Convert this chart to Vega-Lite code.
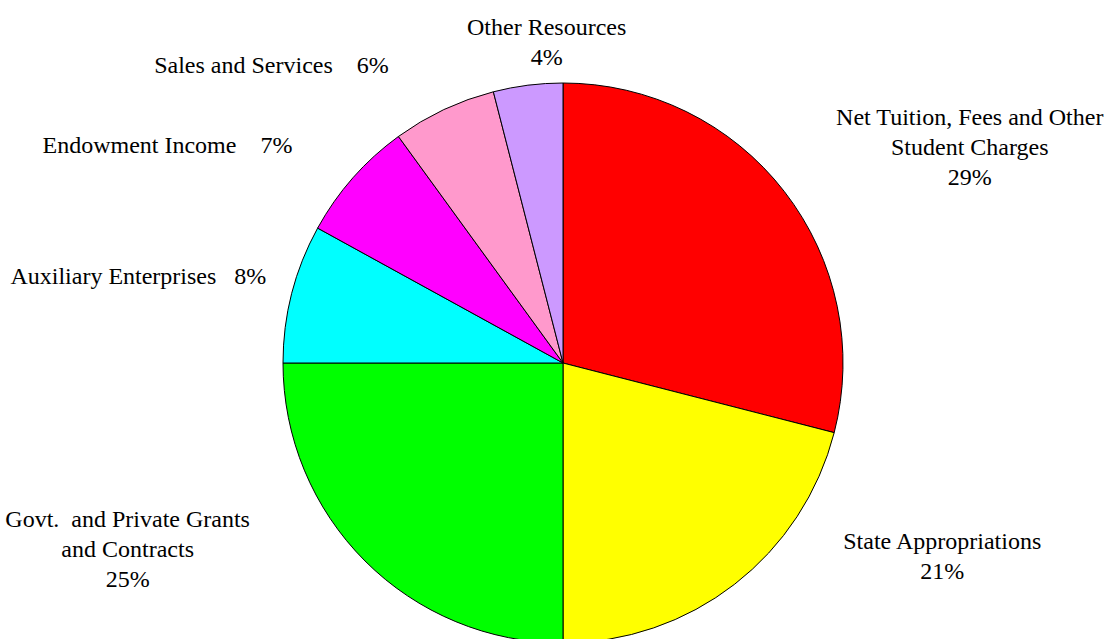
{
  "$schema": "https://vega.github.io/schema/vega-lite/v6.json",
  "autosize": "none",
  "padding": {"left": 20, "top": 100, "right": 1, "bottom": 20},
  "width": 1086,
  "height": 526,
  "background": "white",
  "config": {"view": {"stroke": null}},
  "data": {
    "values": [
      {"idx": 1, "cat": "Net Tuition", "label": "Net Tuition, Fees and Other\nStudent Charges\n29%", "value": 29},
      {"idx": 2, "cat": "State", "label": "State Appropriations\n21%", "value": 21},
      {"idx": 3, "cat": "Govt", "label": "Govt.\u00a0 and Private Grants\nand Contracts\n25%", "value": 25},
      {"idx": 4, "cat": "Auxiliary", "label": "Auxiliary Enterprises\u00a0\u00a0 8%", "value": 8},
      {"idx": 5, "cat": "Endowment", "label": "Endowment Income\u00a0\u00a0\u00a0 7%", "value": 7},
      {"idx": 6, "cat": "Sales", "label": "Sales and Services\u00a0\u00a0\u00a0 6%", "value": 6},
      {"idx": 7, "cat": "Other", "label": "Other Resources\n4%", "value": 4}
    ]
  },
  "encoding": {
    "theta": {"field": "value", "type": "quantitative", "stack": true},
    "order": {"field": "idx", "type": "quantitative"}
  },
  "layer": [
    {
      "mark": {"type": "arc", "radius": 280, "stroke": "black", "strokeWidth": 1},
      "encoding": {
        "color": {
          "field": "cat",
          "type": "nominal",
          "legend": null,
          "scale": {
            "domain": ["Net Tuition", "State", "Govt", "Auxiliary", "Endowment", "Sales", "Other"],
            "range": ["#FF0000", "#FFFF00", "#00FF00", "#00FFFF", "#FF00FF", "#FF99CC", "#CC99FF"]
          }
        }
      }
    },
    {
      "mark": {"type": "text", "radius": 330, "dx": 146, "dy": -43, "font": "Liberation Serif", "fontSize": 24, "lineBreak": "\n", "lineHeight": 30, "align": "center", "baseline": "middle", "color": "black"},
      "encoding": {"text": {"condition": {"test": "datum.cat === 'Net Tuition'", "field": "label"}, "value": ""}}
    },
    {
      "mark": {"type": "text", "radius": 330, "dx": 177, "dy": -82, "font": "Liberation Serif", "fontSize": 24, "lineBreak": "\n", "lineHeight": 30, "align": "center", "baseline": "middle", "color": "black"},
      "encoding": {"text": {"condition": {"test": "datum.cat === 'State'", "field": "label"}, "value": ""}}
    },
    {
      "mark": {"type": "text", "radius": 330, "dx": -202, "dy": -76, "font": "Liberation Serif", "fontSize": 24, "lineBreak": "\n", "lineHeight": 30, "align": "center", "baseline": "middle", "color": "black"},
      "encoding": {"text": {"condition": {"test": "datum.cat === 'Govt'", "field": "label"}, "value": ""}}
    },
    {
      "mark": {"type": "text", "radius": 330, "dx": -105, "dy": -4, "font": "Liberation Serif", "fontSize": 24, "lineBreak": "\n", "lineHeight": 30, "align": "center", "baseline": "middle", "color": "black"},
      "encoding": {"text": {"condition": {"test": "datum.cat === 'Auxiliary'", "field": "label"}, "value": ""}}
    },
    {
      "mark": {"type": "text", "radius": 330, "dx": -148, "dy": 1, "font": "Liberation Serif", "fontSize": 24, "lineBreak": "\n", "lineHeight": 30, "align": "center", "baseline": "middle", "color": "black"},
      "encoding": {"text": {"condition": {"test": "datum.cat === 'Endowment'", "field": "label"}, "value": ""}}
    },
    {
      "mark": {"type": "text", "radius": 330, "dx": -151, "dy": 2, "font": "Liberation Serif", "fontSize": 24, "lineBreak": "\n", "lineHeight": 30, "align": "center", "baseline": "middle", "color": "black"},
      "encoding": {"text": {"condition": {"test": "datum.cat === 'Sales'", "field": "label"}, "value": ""}}
    },
    {
      "mark": {"type": "text", "radius": 330, "dx": 25, "dy": -8, "font": "Liberation Serif", "fontSize": 24, "lineBreak": "\n", "lineHeight": 30, "align": "center", "baseline": "middle", "color": "black"},
      "encoding": {"text": {"condition": {"test": "datum.cat === 'Other'", "field": "label"}, "value": ""}}
    }
  ]
}
